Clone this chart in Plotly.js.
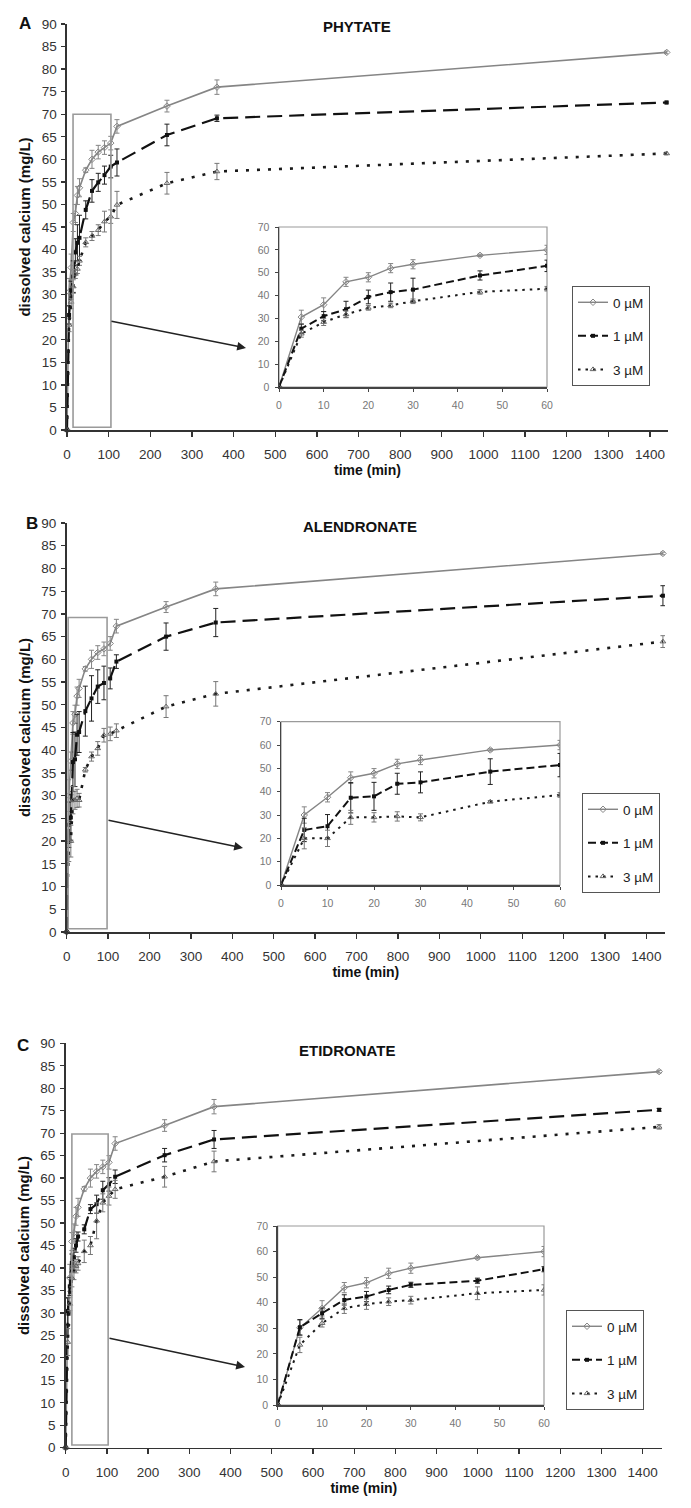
<!DOCTYPE html>
<html><head><meta charset="utf-8">
<script src="https://cdn.plot.ly/plotly-3.0.1.min.js"></script>
<style>html,body{margin:0;padding:0;background:#fff}#chart{width:691px;height:1508px}</style>
</head><body><div id="chart"></div>
<script>
// ---------- DATA ----------
const times = [0, 5, 10, 15, 20, 25, 30, 45, 60, 75, 90, 105, 120, 240, 360, 1440];
const seriesNames = ['0 \u00b5M', '1 \u00b5M', '3 \u00b5M'];
const panelLetters = ['A', 'B', 'C'];
const panelTitles = ['PHYTATE', 'ALENDRONATE', 'ETIDRONATE'];

// Phytate (A)
const phytate0 = [0, 30.6, 36, 46, 48, 52, 53.7, 57.6, 60, 61.6, 62.6, 63.6, 67.3, 71.8, 76, 83.7];
const phytate0Err = [0, 3, 3, 2, 2, 2, 2, 0.5, 2, 1.5, 1.5, 1.5, 1.5, 1.3, 1.6, 0.3];
const phytate1 = [0, 25.5, 31, 34, 39.4, 41.5, 42.6, 48.8, 53, 54.9, 56.5, 58.4, 59.3, 65.4, 69.1, 72.6];
const phytate1Err = [0, 2, 2, 3.5, 3, 4, 5, 2, 2.5, 2, 2, 2.5, 3, 2.4, 0.7, 0.3];
const phytate3 = [0, 23.3, 28.4, 31.8, 34.6, 35.7, 37.5, 41.6, 43, 44.3, 46.2, 47.3, 49.9, 54.7, 57.3, 61.3];
const phytate3Err = [0, 1.5, 1.5, 1.5, 1, 1, 1, 1, 1, 1.2, 2.3, 1.5, 3, 2.4, 1.8, 0.3];

// Alendronate (B)
const alendronate0 = [0, 30, 37.6, 46, 47.9, 51.9, 53.6, 57.9, 60, 61.5, 62.3, 63.5, 67.3, 71.5, 75.5, 83.3];
const alendronate0Err = [0, 3.5, 2, 2.5, 2, 2, 2, 0.5, 2, 1.5, 1.5, 1.5, 1.5, 1.2, 1.5, 0.3];
const alendronate1 = [0, 23.6, 25.2, 37.4, 38, 43.4, 44, 48.6, 51.4, 54, 54.8, 55.8, 59.5, 65, 68.1, 74];
const alendronate1Err = [0, 5, 5, 6.5, 6, 4.5, 4.5, 5.5, 5, 3.7, 3.7, 2.3, 1.5, 3, 3.1, 2.2];
const alendronate3 = [0, 20, 20, 29, 29, 29.4, 29, 35.7, 38.6, 40.4, 43.3, 43.6, 44.3, 49.6, 52.4, 63.9];
const alendronate3Err = [0, 4.5, 3.5, 3, 2, 2, 1.5, 0.5, 1, 1.5, 1.5, 1.5, 1.5, 2.4, 2.7, 1.3];

// Etidronate (C)
const etidronate0 = [0, 30.2, 37.8, 45.9, 47.8, 51.5, 53.5, 57.6, 60, 61.5, 62.5, 63.5, 67.7, 71.7, 75.9, 83.7];
const etidronate0Err = [0, 3, 3, 2, 2, 2, 2, 0.5, 2, 1.5, 1.5, 1.5, 1.5, 1.3, 1.6, 0.3];
const etidronate1 = [0, 30.4, 35.9, 41.1, 42.4, 45, 47, 48.6, 53.1, 54.2, 57.3, 58.6, 60.3, 65.1, 68.6, 75.2];
const etidronate1Err = [0, 3, 2, 2, 2, 1.5, 1, 1, 1, 2, 2, 1.5, 1.5, 1.5, 2, 0.3];
const etidronate3 = [0, 23.5, 32, 37.8, 39.4, 40.4, 41, 43.7, 45, 50.5, 54.5, 56, 57.5, 60.3, 63.7, 71.4];
const etidronate3Err = [0, 3, 1.5, 2, 2, 1.5, 1.5, 2.5, 2, 4, 2, 2, 2, 2.3, 2.3, 0.5];

const mainYTicks = [0, 5, 10, 15, 20, 25, 30, 35, 40, 45, 50, 55, 60, 65, 70, 75, 80, 85, 90];
const mainXTicks = [0, 100, 200, 300, 400, 500, 600, 700, 800, 900, 1000, 1100, 1200, 1300, 1400];
const insetXTicks = [0, 10, 20, 30, 40, 50, 60];
const insetYTicks = [0, 10, 20, 30, 40, 50, 60, 70];

// ---------- LAYOUT GEOMETRY (pixels) ----------
const W = 691, H = 1508;
const panels = [
  { vals: [phytate0, phytate1, phytate3], errs: [phytate0Err, phytate1Err, phytate3Err],
    main: { l: 67, r: 668, t: 24, b: 430, xmax: 1443 },
    inset: { l: 279, r: 547, t: 227, b: 387 },
    legend: { x: 572, y: 286 }, box: [14.5, 105.5, 0.6, 70],
    arrow: { tx: 110, ty: 321, hx: 246, hy: 348 },
    letter: { x: 25, y: 23 }, title: { x: 357, y: 26 } },
  { vals: [alendronate0, alendronate1, alendronate3], errs: [alendronate0Err, alendronate1Err, alendronate3Err],
    main: { l: 66.7, r: 665, t: 523, b: 932, xmax: 1445 },
    inset: { l: 281, r: 560, t: 721.7, b: 885 },
    legend: { x: 582, y: 793 }, box: [3.5, 97.5, 0.7, 69.2],
    arrow: { tx: 107, ty: 820, hx: 243, hy: 848 },
    letter: { x: 32, y: 523 }, title: { x: 360, y: 526 } },
  { vals: [etidronate0, etidronate1, etidronate3], errs: [etidronate0Err, etidronate1Err, etidronate3Err],
    main: { l: 65.7, r: 662, t: 1043.3, b: 1447.7, xmax: 1447 },
    inset: { l: 277.7, r: 544, t: 1226, b: 1405 },
    legend: { x: 566, y: 1310 }, box: [15, 103, 0.6, 69.8],
    arrow: { tx: 108, ty: 1338, hx: 245, hy: 1367 },
    letter: { x: 23, y: 1045 }, title: { x: 347, y: 1050 } }
];

const FONT = '"Liberation Sans", Arial, sans-serif';
const mainStyles = [
  { line: { color: '#858585', width: 1.6, dash: 'solid' }, marker: { symbol: 'diamond-open', size: 5, color: '#858585', line: { width: 1 } }, err: '#858585' },
  { line: { color: '#111111', width: 2.2, dash: '15px,7px' }, marker: { symbol: 'square', size: 4, color: '#111111' }, err: '#222222' },
  { line: { color: '#1a1a1a', width: 2.6, dash: '3px,8px' }, marker: { symbol: 'triangle-up-open', size: 5, color: '#666666', line: { width: 1 } }, err: '#777777' }
];
const insetDash = ['solid', '8px,4px', '2.5px,5px'];

const px2fx = p => p / W;
const px2fy = p => 1 - p / H;

const traces = [];
const layout = {
  width: W, height: H, margin: { l: 0, r: 0, t: 0, b: 0 },
  paper_bgcolor: '#ffffff', plot_bgcolor: 'rgba(0,0,0,0)',
  font: { family: FONT, color: '#333333' },
  showlegend: true,
  shapes: [], annotations: []
};

panels.forEach((p, i) => {
  const mi = 2 * i + 1, ii = 2 * i + 2;
  const mx = mi === 1 ? 'x' : 'x' + mi, my = mi === 1 ? 'y' : 'y' + mi;
  const ix = 'x' + ii, iy = 'y' + ii;
  const legName = i === 0 ? 'legend' : 'legend' + (i + 1);

  for (let s = 0; s < 3; s++) {
    const st = mainStyles[s];
    traces.push({
      type: 'scatter', mode: 'lines+markers', x: times, y: p.vals[s],
      xaxis: mx, yaxis: my, name: seriesNames[s], showlegend: false,
      line: st.line, marker: st.marker,
      error_y: { type: 'data', array: p.errs[s], visible: true, color: st.err, thickness: 1, width: 2.5 },
      cliponaxis: false, hoverinfo: 'skip'
    });
    traces.push({
      type: 'scatter', mode: 'lines+markers', x: times, y: p.vals[s],
      xaxis: ix, yaxis: iy, name: seriesNames[s], showlegend: true,
      legend: legName, legendgroup: 'g' + i + s,
      line: Object.assign({}, st.line, { dash: insetDash[s], width: s === 0 ? 1.4 : 2 }),
      marker: st.marker,
      error_y: { type: 'data', array: p.errs[s], visible: true, color: st.err, thickness: 1, width: 2.5 },
      hoverinfo: 'skip'
    });
  }

  const mAx = {
    domain: [px2fx(p.main.l), px2fx(p.main.r)], anchor: my,
    range: [0, p.main.xmax], tickvals: mainXTicks, ticktext: mainXTicks.map(String),
    showline: true, linecolor: '#333', linewidth: 1.6, ticks: 'outside', ticklen: 5, tickcolor: '#333', tickwidth: 1.3,
    showgrid: false, zeroline: false, tickfont: { size: 13.5, color: '#333' }, ticklabelstandoff: 6,
    title: { text: '<b>time (min)</b>', font: { size: 14, color: '#111' }, standoff: 2 }
  };
  const mAy = {
    domain: [px2fy(p.main.b), px2fy(p.main.t)], anchor: mx,
    range: [0, 90], tickvals: mainYTicks, ticktext: mainYTicks.map(String),
    showline: true, linecolor: '#333', linewidth: 1.6, ticks: 'outside', ticklen: 4, tickcolor: '#333', tickwidth: 1.3,
    showgrid: false, zeroline: false, tickfont: { size: 13.5, color: '#333' }, ticklabelstandoff: 2,
    title: { text: '<b>dissolved calcium (mg/L)</b>', font: { size: 15, color: '#111' }, standoff: 7 }
  };
  const iAx = {
    domain: [px2fx(p.inset.l), px2fx(p.inset.r)], anchor: iy,
    range: [0, 60], tickvals: insetXTicks, ticktext: insetXTicks.map(String),
    showline: true, linecolor: '#444', linewidth: 1.5, ticks: 'outside', ticklen: 3, tickcolor: '#444',
    showgrid: false, zeroline: false, tickfont: { size: 10.5, color: '#777' }, ticklabelstandoff: 5
  };
  const iAy = {
    domain: [px2fy(p.inset.b), px2fy(p.inset.t)], anchor: ix,
    range: [0, 70], tickvals: insetYTicks, ticktext: insetYTicks.map(String),
    showline: true, linecolor: '#444', linewidth: 1.5, ticks: 'outside', ticklen: 3, tickcolor: '#444',
    showgrid: false, zeroline: false, tickfont: { size: 10.5, color: '#777' }, ticklabelstandoff: 3
  };
  layout[mi === 1 ? 'xaxis' : 'xaxis' + mi] = mAx;
  layout[mi === 1 ? 'yaxis' : 'yaxis' + mi] = mAy;
  layout['xaxis' + ii] = iAx;
  layout['yaxis' + ii] = iAy;

  layout[legName] = {
    x: px2fx(p.legend.x), y: px2fy(p.legend.y), xanchor: 'left', yanchor: 'top',
    bordercolor: '#555', borderwidth: 1, bgcolor: '#fff',
    font: { size: 13.5, color: '#222', family: FONT }, traceorder: 'grouped', tracegroupgap: 13
  };

  layout.shapes.push({
    type: 'rect', xref: 'paper', yref: 'paper', layer: 'below',
    x0: px2fx(p.inset.l), x1: px2fx(p.inset.r), y0: px2fy(p.inset.b), y1: px2fy(p.inset.t),
    line: { color: '#9a9a9a', width: 1.2 }, fillcolor: '#ffffff'
  });
  layout.shapes.push({
    type: 'rect', xref: mx, yref: my, layer: 'above',
    x0: p.box[0], x1: p.box[1], y0: p.box[2], y1: p.box[3],
    line: { color: '#9a9a9a', width: 1.6 }, fillcolor: 'rgba(0,0,0,0)'
  });
  layout.annotations.push({
    xref: 'paper', yref: 'paper', x: px2fx(p.arrow.hx), y: px2fy(p.arrow.hy),
    axref: 'pixel', ayref: 'pixel', ax: p.arrow.tx - p.arrow.hx, ay: p.arrow.ty - p.arrow.hy,
    text: '', showarrow: true, arrowhead: 2, arrowsize: 1.1, arrowwidth: 1.6, arrowcolor: '#222'
  });
  layout.annotations.push({
    xref: 'paper', yref: 'paper', x: px2fx(p.letter.x), y: px2fy(p.letter.y),
    xanchor: 'center', yanchor: 'middle', showarrow: false,
    text: '<b>' + panelLetters[i] + '</b>', font: { size: 17, color: '#111' }
  });
  layout.annotations.push({
    xref: 'paper', yref: 'paper', x: px2fx(p.title.x), y: px2fy(p.title.y),
    xanchor: 'center', yanchor: 'middle', showarrow: false,
    text: '<b>' + panelTitles[i] + '</b>', font: { size: 15, color: '#111' }
  });
});

Plotly.newPlot('chart', traces, layout, { staticPlot: true, displayModeBar: false });
</script>
</body></html>
